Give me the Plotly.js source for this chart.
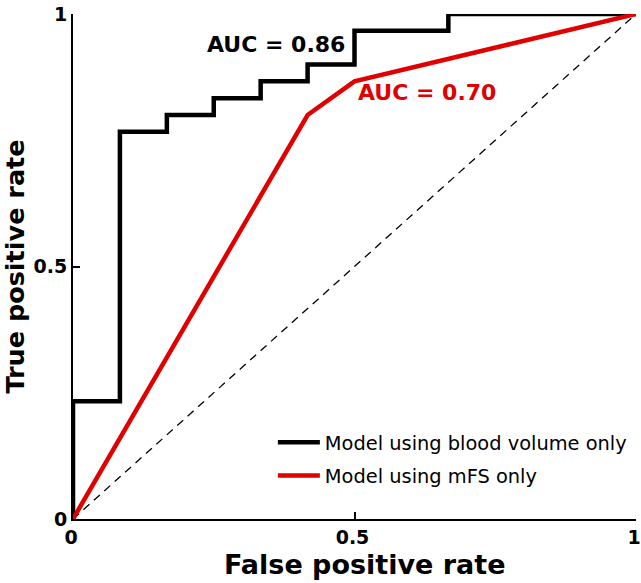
<!DOCTYPE html>
<html>
<head>
<meta charset="utf-8">
<script src="https://cdn.plot.ly/plotly-3.0.1.min.js"></script>
<style>html,body{margin:0;padding:0;background:#fff;}#chart{width:641px;height:583px;}</style>
</head>
<body>
<div id="chart"></div>
<script>
// Model using blood volume only (step ROC)
var bloodFPR = [0, 0, 0.0833, 0.0833, 0.1667, 0.1667, 0.25, 0.25, 0.3333, 0.3333, 0.4167, 0.4167, 0.5, 0.5, 0.6667, 0.6667, 1];
var bloodTPR = [0, 0.2333, 0.2333, 0.7667, 0.7667, 0.8, 0.8, 0.8333, 0.8333, 0.8667, 0.8667, 0.9, 0.9, 0.9667, 0.9667, 1, 1];
// Model using mFS only
var mfsFPR = [0, 0.4167, 0.5, 1];
var mfsTPR = [0, 0.8, 0.8667, 1];
// chance diagonal
var diagX = [0, 1];
var diagY = [0, 1];
var seriesNames = ['Model using blood volume only', 'Model using mFS only'];
var aucLabels = ['AUC = 0.86', 'AUC = 0.70'];
var xTicks = [0, 0.5, 1];
var xTickText = ['0', '0.5', '1'];
var yTicks = [0, 0.5, 1];
var yTickText = ['0', '0.5', '1'];
var xTitle = 'False positive rate';
var yTitle = 'True positive rate';

var font = 'DejaVu Sans, Verdana, sans-serif';

var traces = [
  {x: diagX, y: diagY, mode: 'lines', line: {color: '#000', width: 1.3, dash: '8px,6px'}, showlegend: false, hoverinfo: 'skip', cliponaxis: false},
  {x: bloodFPR, y: bloodTPR, mode: 'lines', name: seriesNames[0], legendgroup: 'a', line: {color: '#000', width: 4.5}, cliponaxis: false},
  {x: mfsFPR, y: mfsTPR, mode: 'lines', name: seriesNames[1], legendgroup: 'b', line: {color: '#e00000', width: 4.5}, cliponaxis: false}
];

var layout = {
  width: 641, height: 583,
  margin: {l: 73, r: 5, t: 14, b: 64},
  paper_bgcolor: '#fff', plot_bgcolor: '#fff',
  font: {family: font, color: '#000'},
  showlegend: true,
  legend: {x: 0.355, y: 0.19, xanchor: 'left', yanchor: 'top', font: {size: 19.4, family: font}, bgcolor: 'rgba(0,0,0,0)', traceorder: 'grouped', tracegroupgap: 5, itemwidth: 42},
  xaxis: {range: [0, 1], tickvals: xTicks, ticktext: xTickText, showgrid: false, zeroline: false, showline: true, linewidth: 2, linecolor: '#000', ticks: 'inside', ticklen: 7, tickwidth: 2, tickcolor: '#000',
    ticklabeloverflow: 'allow', ticklabelshift: -2,
    tickfont: {size: 19, family: font, weight: 'bold'}},
  yaxis: {range: [0, 1], tickvals: yTicks, ticktext: yTickText, showgrid: false, zeroline: false, showline: true, linewidth: 2, linecolor: '#000', ticks: 'inside', ticklen: 7, tickwidth: 2, tickcolor: '#000',
    ticklabeloverflow: 'allow',
    tickfont: {size: 19, family: font, weight: 'bold'},
    title: {text: '<b>' + yTitle + '</b>', font: {size: 25.5, family: font}, standoff: 8}},
  annotations: [
    {x: 0.36, y: 0.939, xref: 'x', yref: 'y', text: '<b>' + aucLabels[0] + '</b>', showarrow: false, font: {size: 22, family: font, color: '#000'}},
    {x: 0.629, y: 0.844, xref: 'x', yref: 'y', text: '<b>' + aucLabels[1] + '</b>', showarrow: false, font: {size: 22, family: font, color: '#e00000'}},
    {x: 0.519, y: -0.091, xref: 'paper', yref: 'paper', xanchor: 'center', yanchor: 'middle', text: '<b>' + xTitle + '</b>', showarrow: false, font: {size: 27, family: font, color: '#000'}}
  ]
};

Plotly.newPlot('chart', traces, layout, {displayModeBar: false, staticPlot: true});
</script>
</body>
</html>
